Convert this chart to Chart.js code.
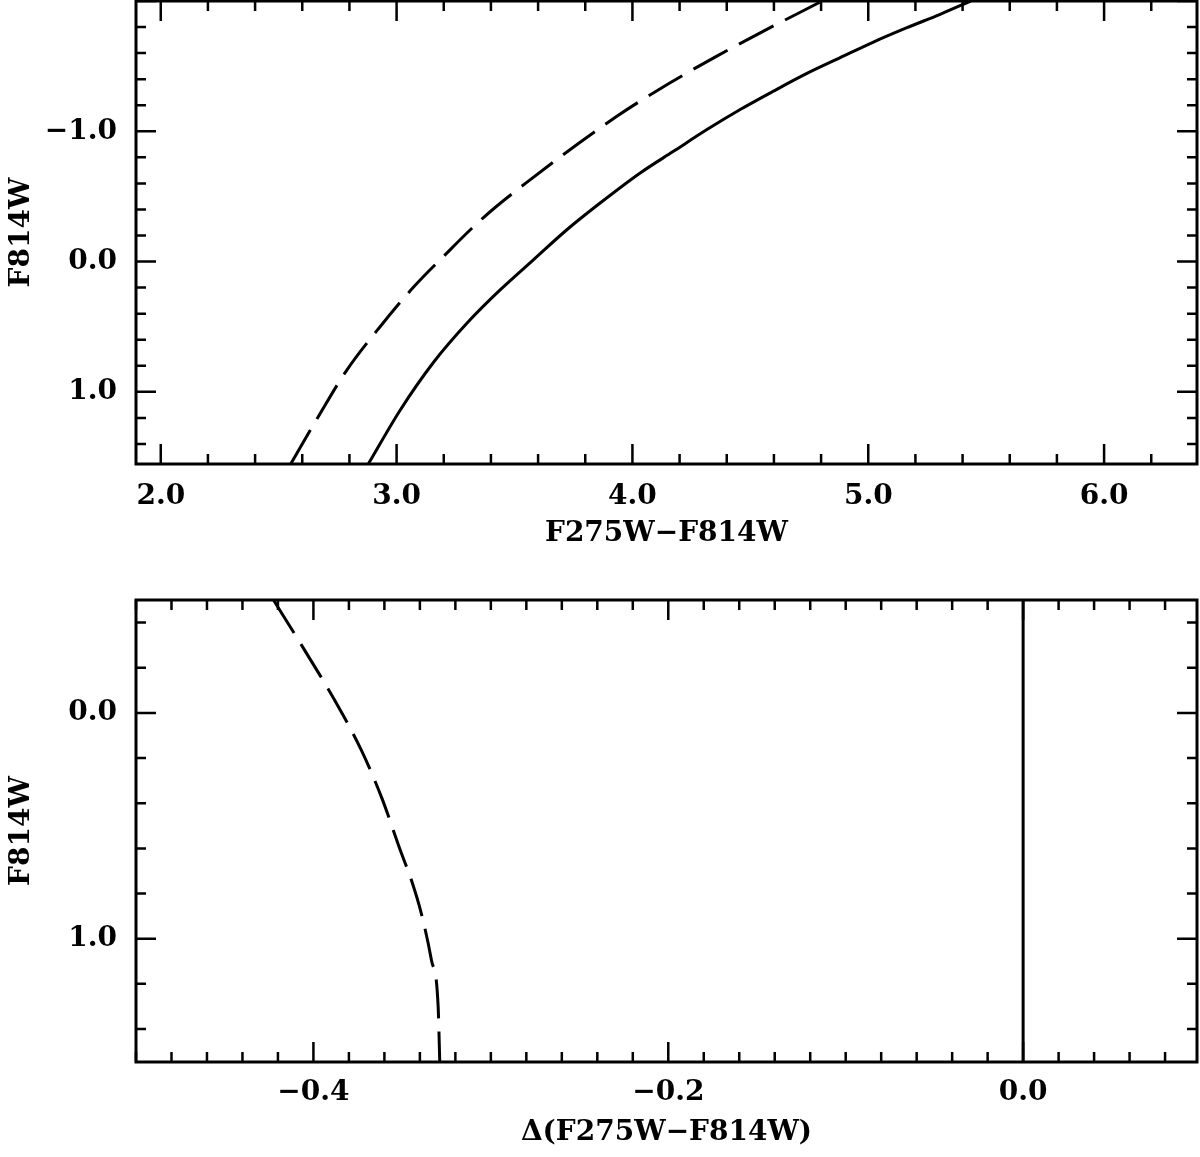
<!DOCTYPE html>
<html>
<head>
    <title>F814W vs F275W-F814W</title>
    <script src="https://cdn.jsdelivr.net/npm/chart.js"></script>
    <style>
        body { margin: 0; background: white; }
        #topChart { position: absolute; left: 0; top: 0; }
        #bottomChart { position: absolute; left: 0; top: 580px; }
    </style>
</head>
<body>
    <canvas id="topChart" width="1200" height="580"></canvas>
    <canvas id="bottomChart" width="1200" height="577"></canvas>

    <script>
        // top panel: colour vs magnitude
        const topSolidColor = [2.880, 3.015, 3.156, 3.298, 3.439, 3.580, 3.722, 3.863, 4.033, 4.174, 4.316, 4.457, 4.598, 4.740, 4.881, 5.022, 5.164, 5.305, 5.435];
        const topSolidMag   = [1.554, 1.141, 0.775, 0.474, 0.218, -0.013, -0.244, -0.449, -0.680, -0.846, -1.013, -1.167, -1.308, -1.444, -1.565, -1.685, -1.795, -1.898, -2.000];
        const topDashedColor = [2.551, 2.676, 2.789, 2.930, 3.075, 3.198, 3.366, 3.545, 3.934, 4.160, 4.358, 4.556, 4.805];
        const topDashedMag   = [1.554, 1.166, 0.833, 0.500, 0.190, -0.038, -0.334, -0.598, -1.115, -1.372, -1.577, -1.769, -2.000];

        // bottom panel: colour difference vs magnitude
        const botDashedDelta = [-0.4225, -0.4049, -0.3880, -0.3730, -0.3617, -0.3504, -0.3448, -0.3392, -0.3335, -0.3297, -0.3288];
        const botDashedMag   = [-0.500, -0.277, -0.056, 0.165, 0.372, 0.622, 0.740, 0.888, 1.094, 1.301, 1.546];
        const botSolidDelta  = [0.0, 0.0];
        const botSolidMag    = [-0.5, 1.546];

        // tick labels
        const topXTicks = [2.0, 3.0, 4.0, 5.0, 6.0];
        const topYTicks = [-1.0, 0.0, 1.0];
        const botXTicks = [-0.4, -0.2, 0.0];
        const botYTicks = [0.0, 1.0];

        const tickFont = { family: 'DejaVu Serif', weight: 'bold', size: 28 };
        const titleFont = { family: 'DejaVu Serif', weight: 'bold', size: 28 };

        function fmt(v) {
            return (v < 0 ? '\u2212' : '') + Math.abs(v).toFixed(1);
        }

        function pts(xs, ys) {
            return xs.map((x, i) => ({ x: x, y: ys[i] }));
        }

        // frame with inward ticks on all four sides
        const framePlugin = {
            id: 'frame',
            afterDatasetsDraw(chart, args, opts) {
                const ctx = chart.ctx;
                const a = chart.chartArea;
                const xs = chart.scales.x, ys = chart.scales.y;
                ctx.save();
                ctx.strokeStyle = '#000';
                ctx.lineWidth = 2.5;
                ctx.beginPath();
                const each = (scale, step, major, fn) => {
                    const lo = Math.min(scale.min, scale.max), hi = Math.max(scale.min, scale.max);
                    const n0 = Math.ceil(lo / step - 1e-6), n1 = Math.floor(hi / step + 1e-6);
                    for (let n = n0; n <= n1; n++) {
                        const v = n * step;
                        const r = v / major;
                        const isMajor = Math.abs(r - Math.round(r)) < 1e-6;
                        fn(scale.getPixelForValue(v), isMajor ? 20 : 10);
                    }
                };
                each(xs, opts.xMinor, opts.xMajor, (p, len) => {
                    ctx.moveTo(p, a.bottom); ctx.lineTo(p, a.bottom - len);
                    ctx.moveTo(p, a.top); ctx.lineTo(p, a.top + len);
                });
                each(ys, opts.yMinor, opts.yMajor, (p, len) => {
                    ctx.moveTo(a.left, p); ctx.lineTo(a.left + len, p);
                    ctx.moveTo(a.right, p); ctx.lineTo(a.right - len, p);
                });
                ctx.stroke();
                ctx.lineWidth = 3;
                ctx.strokeRect(a.left, a.top, a.right - a.left, a.bottom - a.top);
                ctx.restore();
            }
        };

        function makeChart(id, cfg) {
            return new Chart(document.getElementById(id).getContext('2d'), {
                type: 'scatter',
                data: { datasets: cfg.datasets },
                options: {
                    responsive: false,
                    animation: false,
                    events: [],
                    layout: { padding: cfg.padding },
                    plugins: {
                        legend: { display: false },
                        tooltip: { enabled: false },
                        frame: cfg.frame
                    },
                    scales: {
                        x: {
                            type: 'linear',
                            min: cfg.xMin, max: cfg.xMax,
                            grid: { display: false, drawTicks: false },
                            border: { display: false },
                            afterBuildTicks: s => { s.ticks = cfg.xTicks.map(v => ({ value: v })); },
                            afterFit: s => { s.height = cfg.xHeight; s.paddingLeft = 0; s.paddingRight = 0; },
                            ticks: { callback: fmt, color: '#000', font: tickFont, padding: cfg.xPad, maxRotation: 0 },
                            title: { display: true, text: cfg.xTitle, color: '#000', font: titleFont,
                                     padding: { top: 0, bottom: cfg.xTitlePad } }
                        },
                        y: {
                            type: 'linear',
                            reverse: true,
                            min: cfg.yMin, max: cfg.yMax,
                            grid: { display: false, drawTicks: false },
                            border: { display: false },
                            afterBuildTicks: s => { s.ticks = cfg.yTicks.map(v => ({ value: v })); },
                            afterFit: s => { s.width = 136; s.paddingTop = 0; s.paddingBottom = 0; },
                            ticks: { callback: fmt, color: '#000', font: tickFont, padding: 19 },
                            title: { display: true, text: 'F814W', color: '#000', font: titleFont,
                                     padding: { top: 5, bottom: 0 } }
                        }
                    }
                },
                plugins: [framePlugin]
            });
        }

        const solid = { borderColor: '#000', borderWidth: 3, pointRadius: 0, showLine: true,
                        cubicInterpolationMode: 'monotone', fill: false };
        const dashed = Object.assign({}, solid, { borderDash: [39, 13] });

        makeChart('topChart', {
            datasets: [
                Object.assign({ data: pts(topSolidColor, topSolidMag) }, solid),
                Object.assign({ data: pts(topDashedColor, topDashedMag) }, dashed)
            ],
            padding: { left: 0, right: 3, top: 1, bottom: 0 },
            xMin: 1.895, xMax: 6.394, yMin: -2.0, yMax: 1.554,
            xTicks: topXTicks, yTicks: topYTicks,
            xHeight: 116, xPad: 16, xTitlePad: 29,
            xTitle: 'F275W\u2212F814W',
            frame: { xMinor: 0.2, xMajor: 1.0, yMinor: 0.2, yMajor: 1.0 }
        });

        makeChart('bottomChart', {
            datasets: [
                Object.assign({ data: pts(botSolidDelta, botSolidMag) }, solid, { cubicInterpolationMode: 'default', tension: 0 }),
                Object.assign({ data: pts(botDashedDelta, botDashedMag) }, dashed)
            ],
            padding: { left: 0, right: 3, top: 20, bottom: 0 },
            xMin: -0.5, xMax: 0.098, yMin: -0.5, yMax: 1.546,
            xTicks: botXTicks, yTicks: botYTicks,
            xHeight: 95, xPad: 14, xTitlePad: 7,
            xTitle: '\u0394(F275W\u2212F814W)',
            frame: { xMinor: 0.02, xMajor: 0.2, yMinor: 0.2, yMajor: 1.0 }
        });
    </script>
</body>
</html>
